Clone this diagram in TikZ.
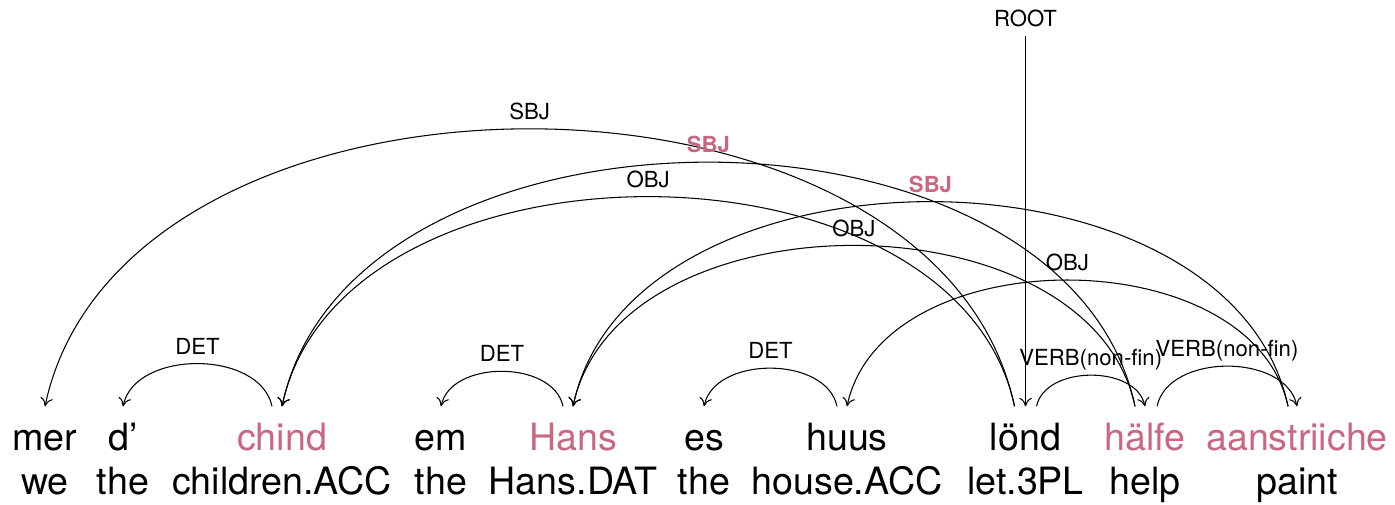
\documentclass[tikz,border=0pt]{standalone}
\usepackage{fontspec}
\setmainfont{TeX Gyre Heros}
\usetikzlibrary{arrows.meta}
\definecolor{hilite}{RGB}{201,103,128}
\tikzset{%
    word/.style={anchor=base, inner sep=0pt, text height=4.3mm,
        font=\fontsize{10.7}{12}\selectfont},
    lbl/.style={anchor=base, inner sep=0pt, yshift=0.95mm,
        font=\fontsize{6.3}{7.5}\selectfont},
    hlbl/.style={lbl, text=hilite, font=\fontsize{6.3}{7.5}\selectfont\bfseries},
    dep/.style={line width=0.3pt, -{To[length=2.4pt, width=3.6pt]}},
    toleft/.style={out=102, in=78},
    toright/.style={out=78, in=102}
}
\begin{document}
\begin{tikzpicture}
  \useasboundingbox (0,0) rectangle (13.95cm, 5.04cm);
  % words
  \node (mer) [word] at (0.45cm, 0.54cm) {mer};
  \node (d) [word] at (1.23cm, 0.54cm) {d’};
  \node (chind) [word, text=hilite] at (2.82cm, 0.54cm) {chind};
  \node (em) [word] at (4.41cm, 0.54cm) {em};
  \node (hans) [word, text=hilite] at (5.73cm, 0.54cm) {Hans};
  \node (es) [word] at (7.04cm, 0.54cm) {es};
  \node (huus) [word] at (8.47cm, 0.54cm) {huus};
  \node (lond) [word] at (10.255cm, 0.54cm) {lönd};
  \node (halfe) [word, text=hilite] at (11.45cm, 0.54cm) {hälfe};
  \node (aans) [word, text=hilite] at (12.97cm, 0.54cm) {aanstriiche};

  % glosses
  \node (we) [word] at (0.45cm, 0.10cm) {we};
  \node (the1) [word] at (1.23cm, 0.10cm) {the};
  \node (children) [word] at (2.82cm, 0.10cm) {children.ACC};
  \node (the2) [word] at (4.41cm, 0.10cm) {the};
  \node (hansdat) [word] at (5.73cm, 0.10cm) {Hans.DAT};
  \node (the3) [word] at (7.04cm, 0.10cm) {the};
  \node (house) [word] at (8.47cm, 0.10cm) {house.ACC};
  \node (let) [word] at (10.255cm, 0.10cm) {let.3PL};
  \node (help) [word] at (11.45cm, 0.10cm) {help};
  \node (paint) [word] at (12.97cm, 0.10cm) {paint};

  \node (root) [lbl] at (10.255cm, 4.685cm) {ROOT};
  \draw [dep] ([yshift=-1mm]root.base) -- (lond.north);

  % dependencies
  \draw [dep] ([xshift=-1.1mm]lond.north) to [toleft] node [lbl] {SBJ} (mer.north);
  \draw [dep] ([xshift=-1.1mm]lond.north) to [toleft] node [lbl] {OBJ} (chind.north);
  \draw [dep] ([xshift=1.1mm]lond.north) to [toright] node [lbl] {VERB(non-fin)} (halfe.north);
  \draw [dep] ([xshift=-1mm]halfe.north) to [toleft] node [hlbl] {SBJ} (chind.north);
  \draw [dep] ([xshift=-1mm]halfe.north) to [toleft] node [lbl] {OBJ} (hans.north);
  \draw [dep] ([xshift=1.2mm]halfe.north) to [toright] node [lbl] {VERB(non-fin)} (aans.north);
  \draw [dep] ([xshift=-0.9mm]aans.north) to [toleft] node [hlbl] {SBJ} (hans.north);
  \draw [dep] ([xshift=-0.9mm]aans.north) to [toleft] node [lbl] {OBJ} (huus.north);
  \draw [dep] ([xshift=-1mm]chind.north) to [toleft] node [lbl] {DET} (d.north);
  \draw [dep] ([xshift=-1mm]hans.north) to [toleft] node [lbl] {DET} (em.north);
  \draw [dep] ([xshift=-1mm]huus.north) to [toleft] node [lbl] {DET} (es.north);
\end{tikzpicture}
\end{document}
